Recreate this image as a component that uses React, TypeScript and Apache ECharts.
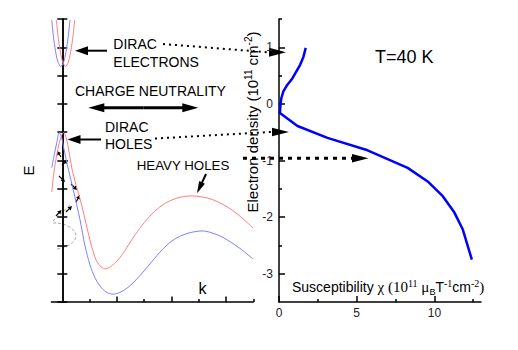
import React, { useEffect, useRef } from "react";
import * as echarts from "echarts";

// ---- Left panel: schematic band structure E(k) (same energy scale as right axis)
const kBlueElectron = [-0.388, -0.311, -0.224, -0.161, -0.055, 0.051, 0.114, 0.202, 0.282];
const eBlueElectron = [1.484, 1.131, 0.866, 0.742, 0.659, 0.742, 0.866, 1.131, 1.484];
const kRedElectron = [-0.22, -0.139, -0.051, 0.011, 0.117, 0.224, 0.286, 0.374, 0.454];
const eRedElectron = [1.484, 1.131, 0.866, 0.742, 0.659, 0.742, 0.866, 1.131, 1.484];

const kRedHole = [-0.388, -0.304, -0.205, -0.121, -0.037, 0.037, 0.099, 0.172, 0.264, 0.355, 0.502, 0.649, 0.795, 0.942, 1.088, 1.235, 1.381, 1.565, 1.785, 2.041, 2.298, 2.591, 2.921, 3.287, 3.653, 4.02, 4.386, 4.753, 5.119, 5.486, 5.852, 6.219, 6.585, 6.988];
const eRedHole = [-1.555, -1.201, -0.901, -0.707, -0.565, -0.507, -0.539, -0.654, -0.901, -1.148, -1.431, -1.678, -1.961, -2.261, -2.544, -2.756, -2.862, -2.915, -2.871, -2.756, -2.588, -2.367, -2.147, -1.943, -1.793, -1.696, -1.643, -1.625, -1.643, -1.687, -1.767, -1.873, -2.014, -2.191];

const kBlueHole = [-0.388, -0.304, -0.213, -0.11, -0.029, 0.044, 0.136, 0.227, 0.392, 0.649, 0.832, 1.015, 1.198, 1.381, 1.601, 1.858, 2.114, 2.407, 2.7, 2.994, 3.287, 3.653, 4.02, 4.386, 4.753, 5.119, 5.486, 5.852, 6.219, 6.585, 6.988];
const eBlueHole = [-1.131, -0.919, -0.707, -0.507, -0.583, -0.76, -0.972, -1.166, -1.502, -2.049, -2.509, -2.845, -3.074, -3.216, -3.322, -3.362, -3.33, -3.242, -3.11, -2.951, -2.783, -2.58, -2.42, -2.323, -2.267, -2.244, -2.279, -2.35, -2.456, -2.58, -2.739];

// ---- Right panel: susceptibility vs electron density at T = 40 K
const susceptibility = [1.72, 1.57, 1.36, 0.86, 0.54, 0.28, 0.15, 0.1, 0.06, 1.19, 3.12, 5.7, 8.28, 9.57, 10.54, 11.29, 11.83, 12.41];
const electronDensity = [0.99, 0.83, 0.69, 0.45, 0.34, 0.22, 0.1, 0.0, -0.16, -0.39, -0.6, -0.82, -1.13, -1.37, -1.63, -1.92, -2.22, -2.75];

// ---- Ticks
const kMajorTicks = [2, 4, 6];
const kMinorTicks = [1, 3, 5, 7];
const chiMajorTicks = [0, 5, 10];
const chiMinorTicks = [2.5, 7.5, 12.5];
const densityMajorTicks = [-3, -2, -1, 0, 1];
const densityMinorTicks = [-2.5, -1.5, -0.5, 0.5, 1.5];

const SANS = '"Liberation Sans", Arial, sans-serif';
const SERIF = '"Liberation Serif", "Times New Roman", serif';

const zip = (xs: number[], ys: number[]) => xs.map((x, i) => [x, ys[i]]);

function arrowEls(x1: number, y1: number, x2: number, y2: number, head: number, half: number, width: number, color = "#000") {
  const dx = x2 - x1, dy = y2 - y1;
  const L = Math.hypot(dx, dy);
  const ux = dx / L, uy = dy / L;
  const bx = x2 - ux * head, by = y2 - uy * head;
  const px = -uy, py = ux;
  return [
    { type: "line", shape: { x1, y1, x2: bx + ux * 1, y2: by + uy * 1 }, style: { stroke: color, lineWidth: width } },
    {
      type: "polygon",
      shape: { points: [[x2, y2], [bx + px * half, by + py * half], [bx - px * half, by - py * half]] },
      style: { fill: color },
    },
  ];
}

function txt(text: string, x: number, y: number, size: number, align = "left", rotation = 0, family = SANS) {
  return {
    type: "text",
    x,
    y,
    rotation,
    style: {
      text,
      font: `${size}px ${family}`,
      fill: "#000",
      textAlign: align,
      textVerticalAlign: "middle",
    },
  };
}

export default function App() {
  const ref = useRef<HTMLDivElement>(null);
  useEffect(() => {
    if (!ref.current) return;
    const chart = echarts.init(ref.current, undefined, { renderer: "svg" });
    const axisLineStyle = { color: "#000", width: 1.5 };
    const tickStyle = { color: "#000", width: 1.5 };

    const graphics: any[] = [
      // main arrows
      ...arrowEls(107, 50.7, 75, 50.7, 13, 4.5, 2),
      ...arrowEls(101, 139.5, 67.5, 139.5, 13, 4.5, 2),
      ...arrowEls(143.3, 107.7, 88.3, 107.7, 16, 4.5, 3),
      ...arrowEls(143.3, 107.7, 198.3, 107.7, 16, 4.5, 3),
      ...arrowEls(206, 174, 197, 193.3, 12, 3.2, 2),
      // small transition arrows
      ...arrowEls(61, 157, 57, 151, 4, 2.2, 1.2),
      ...arrowEls(62, 165, 68, 160, 4, 2.2, 1.2),
      ...arrowEls(59, 176, 65, 182, 4, 2.2, 1.2),
      ...arrowEls(71, 184, 77, 190, 4, 2.2, 1.2),
      ...arrowEls(76, 202, 80, 195, 4, 2.2, 1.2),
      ...arrowEls(56, 216, 61.5, 210, 4, 2.2, 1.2),
      ...arrowEls(66, 212, 72, 206, 4, 2.2, 1.2),
      // gray dashed
      {
        type: "bezierCurve",
        shape: { x1: 53, y1: 223, cpx1: 74, cpy1: 222, cpx2: 90, cpy2: 242, x2: 57, y2: 249 },
        style: { stroke: "#aaa", lineWidth: 1, lineDash: [3, 2], fill: null },
      },
      { type: "line", shape: { x1: 53, y1: 221, x2: 70, y2: 205 }, style: { stroke: "#aaa", lineWidth: 1, lineDash: [3, 2] } },
      // dotted connectors
      { type: "line", shape: { x1: 163, y1: 44, x2: 268, y2: 52.3 }, style: { stroke: "#000", lineWidth: 2, lineDash: [2, 4] } },
      { type: "line", shape: { x1: 155, y1: 138.5, x2: 271, y2: 132 }, style: { stroke: "#000", lineWidth: 2, lineDash: [2, 4] } },
      { type: "line", shape: { x1: 243, y1: 158.3, x2: 352, y2: 158.3 }, style: { stroke: "#000", lineWidth: 3, lineDash: [4, 5] } },
      // right-panel arrowheads
      { type: "polygon", shape: { points: [[286, 52.3], [269, 47.8], [269, 56.8]] }, style: { fill: "#000" } },
      { type: "polygon", shape: { points: [[289, 132], [272, 127.8], [272, 136.2]] }, style: { fill: "#000" } },
      { type: "polygon", shape: { points: [[368.5, 158.3], [352, 154], [352, 162.6]] }, style: { fill: "#000" } },
      // texts
      txt("DIRAC", 113.3, 43.5, 14),
      txt("ELECTRONS", 113.3, 61.7, 14),
      txt("CHARGE NEUTRALITY", 75, 91, 14),
      txt("DIRAC", 105, 126.7, 14),
      txt("HOLES", 105, 143.5, 14),
      txt("HEAVY HOLES", 136.7, 165, 13.3),
      txt("E", 28.5, 170.5, 15, "center", Math.PI / 2),
      txt("k", 202.5, 288.5, 16, "center"),
      txt("T=40 K", 375, 57, 18),
      {
        type: "text",
        x: 252,
        y: 122,
        rotation: Math.PI / 2,
        style: {
          text: "{a|Electron density (10}{sup|11}{a| cm}{sup|-2}{a|)}",
          textAlign: "center",
          textVerticalAlign: "middle",
          fill: "#000",
          rich: {
            a: { fontSize: 15, fontFamily: SANS, lineHeight: 18, fill: "#000" },
            sup: { fontSize: 10, fontFamily: SANS, lineHeight: 18, verticalAlign: "top", fill: "#000" },
          },
        },
      },
      {
        type: "text",
        x: 292,
        y: 287,
        style: {
          text: "{a|Susceptibility }{t|χ (10}{sup|11}{t| μ}{sub|B}{a|T}{sup|-1}{a|cm}{sup|-2}{t|)}",
          textAlign: "left",
          textVerticalAlign: "middle",
          fill: "#000",
          rich: {
            a: { fontSize: 14, fontFamily: SANS, lineHeight: 18, fill: "#000" },
            t: { fontSize: 15, fontFamily: SERIF, lineHeight: 18, fill: "#000" },
            sup: { fontSize: 10, fontFamily: SERIF, lineHeight: 18, verticalAlign: "top", fill: "#000" },
            sub: { fontSize: 9, fontFamily: SANS, lineHeight: 18, verticalAlign: "bottom", fill: "#000" },
          },
        },
      },
    ];

    const leftLine = (data: number[][], color: string) => ({
      type: "line",
      xAxisIndex: 0,
      yAxisIndex: 0,
      data,
      showSymbol: false,
      smooth: 0.3,
      lineStyle: { color, width: 1 },
      z: 3,
    });

    chart.setOption({
      animation: false,
      grid: [
        { left: 51.4, top: 19, width: 201.9, height: 283 },
        { left: 279, top: 19, width: 202, height: 283 },
      ],
      xAxis: [
        {
          gridIndex: 0, type: "value", min: -0.4, max: 7, position: "bottom",
          axisLine: { onZero: false, lineStyle: axisLineStyle },
          axisTick: { inside: true, length: 3, customValues: kMinorTicks, lineStyle: tickStyle },
          axisLabel: { show: false }, splitLine: { show: false },
        },
        {
          gridIndex: 0, type: "value", min: -0.4, max: 7, position: "bottom",
          axisLine: { show: false, onZero: false },
          axisTick: { inside: true, length: 5.5, customValues: kMajorTicks, lineStyle: tickStyle },
          axisLabel: { show: false }, splitLine: { show: false },
        },
        {
          gridIndex: 1, type: "value", min: 0, max: 13, position: "bottom",
          axisLine: { onZero: false, lineStyle: axisLineStyle },
          axisTick: { inside: true, length: 6, customValues: chiMajorTicks, lineStyle: tickStyle },
          axisLabel: { customValues: chiMajorTicks, fontSize: 12, fontFamily: SANS, color: "#222", margin: 5 },
          splitLine: { show: false },
        },
        {
          gridIndex: 1, type: "value", min: 0, max: 13, position: "bottom",
          axisLine: { show: false, onZero: false },
          axisTick: { inside: true, length: 3, customValues: chiMinorTicks, lineStyle: tickStyle },
          axisLabel: { show: false }, splitLine: { show: false },
        },
      ],
      yAxis: [
        {
          gridIndex: 0, type: "value", min: -3.5, max: 1.5, interval: 0.5, position: "left",
          axisLine: { onZero: true, onZeroAxisIndex: 0, lineStyle: axisLineStyle },
          axisTick: { inside: true, length: 5, lineStyle: tickStyle },
          axisLabel: { show: false }, splitLine: { show: false },
        },
        {
          gridIndex: 0, type: "value", min: -3.5, max: 1.5, interval: 0.5, position: "left",
          axisLine: { onZero: true, onZeroAxisIndex: 0, lineStyle: axisLineStyle },
          axisTick: { inside: false, length: 5, lineStyle: tickStyle },
          axisLabel: { show: false }, splitLine: { show: false },
        },
        {
          gridIndex: 1, type: "value", min: -3.5, max: 1.5, position: "left",
          axisLine: { onZero: false, lineStyle: axisLineStyle },
          axisTick: { inside: true, length: 6, customValues: densityMajorTicks, lineStyle: tickStyle },
          axisLabel: { customValues: densityMajorTicks, fontSize: 12, fontFamily: SANS, color: "#222", margin: 6 },
          splitLine: { show: false },
        },
        {
          gridIndex: 1, type: "value", min: -3.5, max: 1.5, position: "left",
          axisLine: { show: false, onZero: false },
          axisTick: { inside: true, length: 3, customValues: densityMinorTicks, lineStyle: tickStyle },
          axisLabel: { show: false }, splitLine: { show: false },
        },
      ],
      series: [
        leftLine(zip(kBlueElectron, eBlueElectron), "#7f7fff"),
        leftLine(zip(kRedElectron, eRedElectron), "#ff7f7f"),
        leftLine(zip(kRedHole, eRedHole), "#ff7f7f"),
        leftLine(zip(kBlueHole, eBlueHole), "#7f7fff"),
        {
          type: "line",
          xAxisIndex: 2,
          yAxisIndex: 2,
          data: zip(susceptibility, electronDensity),
          showSymbol: false,
          lineStyle: { color: "#0000ff", width: 2.5 },
        },
      ],
      graphic: graphics,
    });
    return () => chart.dispose();
  }, []);
  return <div ref={ref} style={{ position: "fixed", left: 0, top: 0, width: 518, height: 350, background: "#fff" }} />;
}
